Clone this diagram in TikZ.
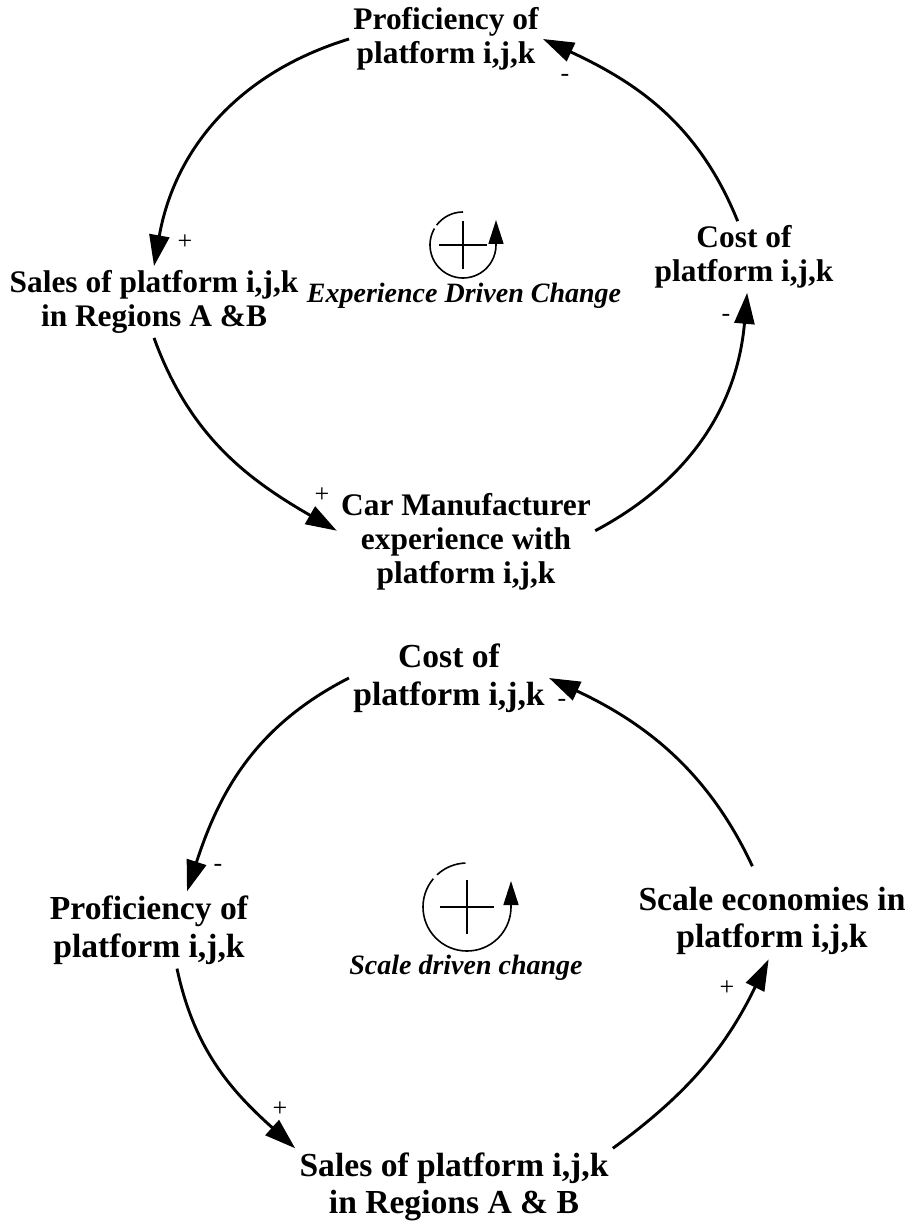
\documentclass[tikz,border=0pt]{standalone}
\usepackage{fontspec}
\setmainfont{Liberation Serif}
\usepackage{tikz}
\usetikzlibrary{arrows.meta, positioning, calc}

\begin{document}
\begin{tikzpicture}[x=0.5pt, y=-0.5pt,
		var/.style={align=center, inner sep=2pt, font=\fontsize{15.7}{17}\selectfont\bfseries},
		varbig/.style={align=center, inner sep=2pt, font=\fontsize{16.8}{18.8}\selectfont\bfseries},
		sgn/.style={inner sep=0pt, font=\fontsize{13}{13}\selectfont},
		looptxt/.style={inner sep=1pt, font=\fontsize{14}{15}\selectfont\bfseries\itshape},
		link/.style={line width=1.45pt, -{Triangle[length=15.5pt, width=10pt]}},
		loopring/.style={line width=0.8pt},
		loophead/.style={line width=0.8pt, -{Triangle[length=12pt, width=7.5pt]}}]
		\useasboundingbox (0,0) rectangle (914,1224);
		
		%----------------------------------------------------------------
		\node(profexp) [var] at (446,39) {Proficiency of\\platform i,j,k};
		\node(costexp) [var] at (744,257) {Cost of\\platform i,j,k};
		\node(salesexp) [var] at (154,302) {Sales of platform i,j,k\\in Regions A \&B};
		\node(carexp) [var] at (466,542) {Car Manufacturer\\experience with\\platform i,j,k};
		
		\draw [link] (costexp.100) to[out=112, in=-25] (profexp.east);
		\draw [link] (profexp.west) to[out=197, in=80] (salesexp.north);
		\draw [link] (salesexp.south) to[out=-70, in=150] (carexp.175);
		\draw [link] (carexp.5) to[out=28, in=-95] (costexp.-85);
		
		\node(sgn1) [sgn] at (565,78) {-};
		\node(sgn2) [sgn] at (185,242) {+};
		\node(sgn3) [sgn] at (322,495) {+};
		\node(sgn4) [sgn] at (726,318) {-};
		
		% loop symbol
		\coordinate(ringexp) at (463,245);
		\draw [loopring] ([shift={(90:16.5pt)}]ringexp) arc[start angle=90, end angle=143, radius=16.5pt];
		\draw [loophead] ([shift={(150:16.5pt)}]ringexp) arc[start angle=150, end angle=360, radius=16.5pt] -- ++(0,-25);
		\draw [line width=1pt] ($(ringexp)+(-24,0)$) -- ($(ringexp)+(24,0)$);
		\draw [line width=1pt] ($(ringexp)+(0,-24)$) -- ($(ringexp)+(0,24)$);
		\node(expchange) [looptxt] at (464,296) {Experience Driven Change};
		
		%----------------------------------------------------------------
		\node(costscale) [varbig] at (449,678) {Cost of\\platform i,j,k};
		\node(profscale) [varbig] at (149,930) {Proficiency of\\platform i,j,k};
		\node(scaleeco) [varbig] at (772,921) {Scale economies in\\platform i,j,k};
		\node(salesscale) [varbig] at (454,1187) {Sales of platform i,j,k\\in Regions A \& B};
		
		\draw [link, shorten <=9pt] ([xshift=-6pt]scaleeco.north) to[out=115, in=-25] (costscale.east);
		\draw [link] (costscale.west) to[out=207, in=72] ([xshift=19pt]profscale.north);
		\draw [link] ([xshift=14pt]profscale.south) to[out=-78, in=138] (salesscale.north west);
		\draw [link] (salesscale.north east) to[out=36, in=-116] (scaleeco.-95);
		
		\node(sgn5) [sgn] at (562,703) {-};
		\node(sgn6) [sgn] at (218,868) {-};
		\node(sgn7) [sgn] at (280,1109) {+};
		\node(sgn8) [sgn] at (727,988) {+};
		
		% loop symbol
		\coordinate(ringscale) at (467,907);
		\draw [loopring] ([shift={(92:22pt)}]ringscale) arc[start angle=92, end angle=133, radius=22pt];
		\draw [loophead] ([shift={(140:22pt)}]ringscale) arc[start angle=140, end angle=360, radius=22pt] -- ++(0,-26);
		\draw [line width=1pt] ($(ringscale)+(-27,0)$) -- ($(ringscale)+(27,0)$);
		\draw [line width=1pt] ($(ringscale)+(0,-27)$) -- ($(ringscale)+(0,27)$);
		\node(scalechange) [looptxt] at (466,968) {Scale driven change};
		
	\end{tikzpicture}
\end{document}
